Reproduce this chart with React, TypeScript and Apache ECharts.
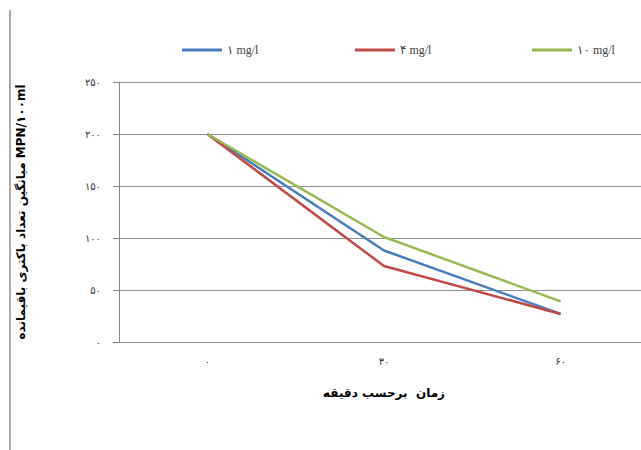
import React, { useEffect, useRef } from "react";
import * as echarts from "echarts";

const categories = ["۰", "۳۰", "۶۰"];
const seriesNames = ["۱ mg/l", "۴ mg/l", "۱۰ mg/l"];
const blueValues = [200, 88, 27];
const redValues = [200, 73, 27];
const greenValues = [200, 101, 39];
const yTicks = [0, 50, 100, 150, 200, 250];
const colors = ["#4a7ebb", "#be4b48", "#98b954"];

const toFa = (v: number | string) =>
  String(v).replace(/[0-9]/g, (d) => "۰۱۲۳۴۵۶۷۸۹"[Number(d)]);

export default function App() {
  const ref = useRef<HTMLDivElement>(null);
  useEffect(() => {
    if (!ref.current) return;
    const chart = echarts.init(ref.current, undefined, { renderer: "svg" });
    const legendLefts = [177, 350, 527];
    chart.setOption({
      animation: false,
      backgroundColor: "#ffffff",
      legend: seriesNames.map((n, i) => ({
        data: [n],
        left: legendLefts[i],
        top: 39,
        itemWidth: 40,
        itemHeight: 3,
        icon: "rect",
        textStyle: { fontFamily: "Liberation Serif, DejaVu Sans", fontSize: 12, color: "#444" },
      })),
      grid: { left: 119, top: 82, height: 260, width: 530, containLabel: false },
      xAxis: {
        type: "category",
        data: categories,
        boundaryGap: true,
        axisLine: { show: false },
        axisTick: { show: false },
        axisLabel: { fontSize: 10, color: "#333", margin: 14, fontFamily: "DejaVu Sans" },
        name: "زمان  برحسب دقیقه",
        nameLocation: "middle",
        nameGap: 45,
        nameTextStyle: { fontSize: 12, fontWeight: "bold", color: "#000", fontFamily: "DejaVu Sans" },
      },
      yAxis: {
        type: "value",
        min: 0,
        max: 250,
        interval: 50,
        axisLine: { show: true, lineStyle: { color: "#888", width: 1 } },
        axisTick: { show: true, length: 6, lineStyle: { color: "#888" } },
        splitLine: { show: true, lineStyle: { color: "#8f8f8f", width: 1 } },
        axisLabel: {
          fontSize: 10,
          color: "#333",
          margin: 18,
          fontFamily: "DejaVu Sans",
          formatter: (v: number) => (yTicks.includes(v) ? toFa(v) : ""),
        },
        name: "میانگین تعداد باکتری باقیمانده MPN/۱۰۰ml",
        nameLocation: "middle",
        nameGap: 92,
        nameTextStyle: { fontSize: 12, fontWeight: "bold", color: "#000", fontFamily: "DejaVu Sans" },
      },
      series: [
        { name: seriesNames[0], type: "line", data: blueValues, color: colors[0] },
        { name: seriesNames[1], type: "line", data: redValues, color: colors[1] },
        { name: seriesNames[2], type: "line", data: greenValues, color: colors[2] },
      ].map((s) => ({
        ...s,
        symbol: "none",
        smooth: false,
        lineStyle: { width: 2.5, color: s.color },
        itemStyle: { color: s.color },
      })),
      graphic: [
        {
          type: "line",
          shape: { x1: 10, y1: 10, x2: 10, y2: 450 },
          style: { stroke: "#aaa", lineWidth: 2 },
        },
      ],
    });
    return () => chart.dispose();
  }, []);
  return (
    <div style={{ width: 641, height: 450, position: "absolute", left: 0, top: 0, overflow: "hidden" }}>
      <div ref={ref} style={{ width: 660, height: 450 }} />
    </div>
  );
}
